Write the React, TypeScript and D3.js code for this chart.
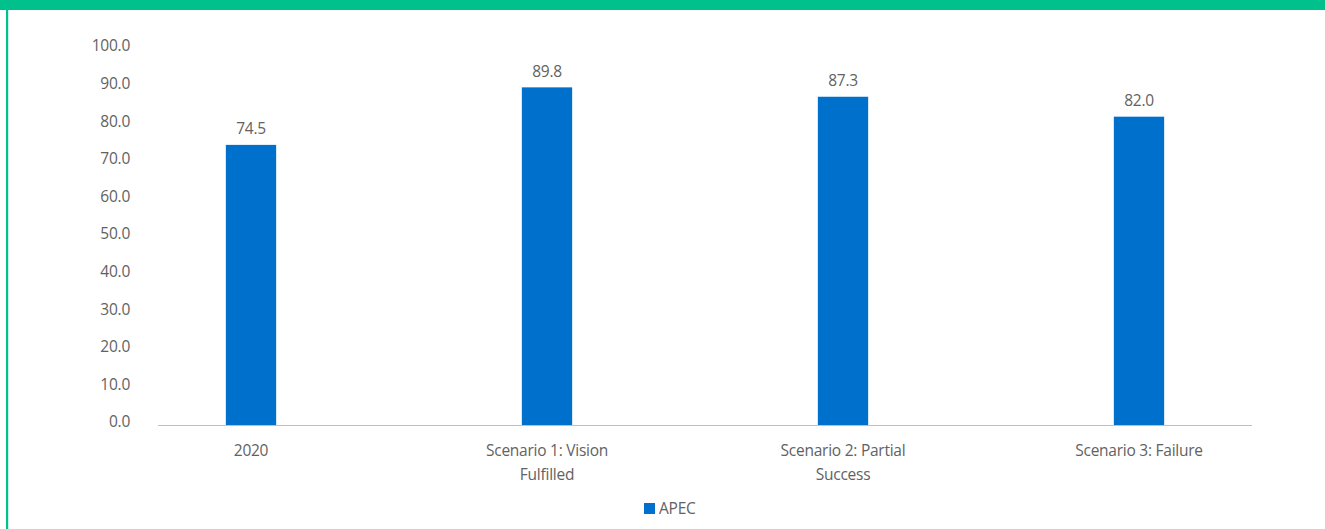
import * as d3 from "d3";

const categories = ["2020", "Scenario 1: Vision Fulfilled", "Scenario 2: Partial Success", "Scenario 3: Failure"];
const apecValues = [74.5, 89.8, 87.3, 82.0];
const yTicks = [0, 10, 20, 30, 40, 50, 60, 70, 80, 90, 100];
const seriesName = "APEC";

const W = 1325;
const H = 529;
const GREEN = "#00c08b";
const BLUE = "#0070cd";
const TEXT = "#626262";
const FONT = "'Open Sans', Lato, sans-serif";
const FS = 15.5;
const LS = -0.25;

// wrap on word boundaries, roughly like the original category labels
function wrap(label: string, maxChars = 19): string[] {
  const lines: string[] = [];
  let cur = "";
  for (const w of label.split(" ")) {
    const next = cur ? cur + " " + w : w;
    if (next.length > maxChars && cur) {
      lines.push(cur);
      cur = w;
    } else cur = next;
  }
  if (cur) lines.push(cur);
  return lines;
}

export default function App() {
  const plotLeft = 158;
  const plotRight = 1252;
  const y = d3.scaleLinear().domain([0, 100]).range([425, 49]);
  // categories are not evenly spread in the source, so the band range runs past the axis
  const x = d3.scaleBand<string>().domain(categories).range([103, 1287]).paddingInner(0.83).paddingOuter(0.415);
  const fmt = d3.format(".1f");

  return (
    <div style={{ position: "fixed", left: 0, top: 0 }}>
      <svg width={W} height={H} style={{ display: "block", background: "#fff" }} fontFamily={FONT}>
        {/* frame */}
        <rect x={0} y={0} width={W} height={10} fill={GREEN} />
        <rect x={6} y={10} width={2.2} height={H - 10} fill={GREEN} />

        {/* y axis labels */}
        {yTicks.map((t) => (
          <text key={t} x={130} y={y(t) - 3} dy="0.35em" textAnchor="end" fontSize={FS} fill={TEXT} letterSpacing={LS}>
            {fmt(t)}
          </text>
        ))}

        {/* bars */}
        {categories.map((c, i) => (
          <g key={c}>
            <rect x={x(c)} y={y(apecValues[i])} width={x.bandwidth()} height={y(0) - y(apecValues[i])} fill={BLUE} />
            <text
              x={(x(c) ?? 0) + x.bandwidth() / 2}
              y={y(apecValues[i]) - 16}
              dy="0.35em"
              textAnchor="middle"
              fontSize={FS}
              fill={TEXT}
              letterSpacing={LS}
            >
              {fmt(apecValues[i])}
            </text>
          </g>
        ))}

        {/* x axis */}
        <line x1={plotLeft} x2={plotRight} y1={y(0) + 0.5} y2={y(0) + 0.5} stroke="#bfbfbf" strokeWidth={1} />
        {categories.map((c) => (
          <text key={c} textAnchor="middle" fontSize={FS} fill={TEXT} letterSpacing={LS}>
            {wrap(c).map((line, j) => (
              <tspan key={j} x={(x(c) ?? 0) + x.bandwidth() / 2} y={451 + j * 24} dy="0.35em">
                {line}
              </tspan>
            ))}
          </text>
        ))}

        {/* legend */}
        <rect x={644} y={503} width={11} height={11} fill={BLUE} />
        <text x={659} y={508.5} dy="0.35em" fontSize={FS} fill={TEXT} letterSpacing={LS}>
          {seriesName}
        </text>
      </svg>
    </div>
  );
}
